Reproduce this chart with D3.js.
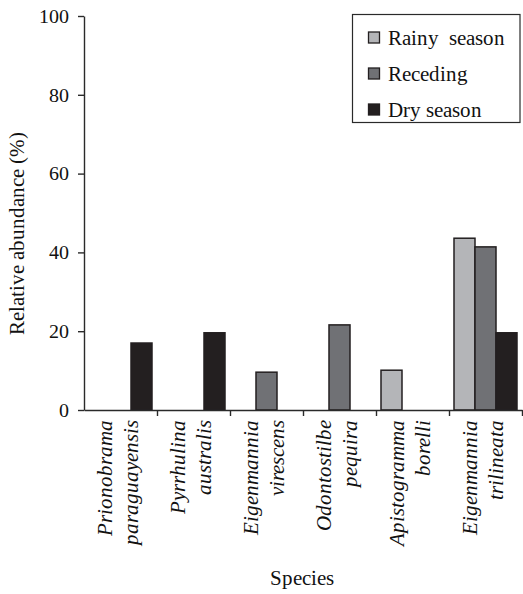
<!DOCTYPE html>
<html>
<head>
<meta charset="utf-8">
<script src="https://cdn.jsdelivr.net/npm/d3@7/dist/d3.min.js"></script>
<style>
  @font-face { font-family: "ChartSerif"; font-style: normal; src: local("Liberation Serif"), local("LiberationSerif"), local("Times New Roman"); }
  @font-face { font-family: "ChartSerif"; font-style: italic; src: local("Liberation Serif Italic"), local("LiberationSerif-Italic"), local("Times New Roman Italic"); }
</style>
</head>
<body style="margin:0">
<svg id="t" width="523" height="594"></svg>
<script>
// Species, split into genus and epithet (each drawn on its own line)
const genera   = ["Prionobrama", "Pyrrhulina", "Eigenmannia", "Odontostilbe", "Apistogramma", "Eigenmannia"];
const epithets = ["paraguayensis", "australis", "virescens", "pequira", "borelli", "trilineata"];

// Seasons and relative abundance (%) per species
const seasons        = ["Rainy  season", "Receding", "Dry season"];
const rainyValues    = [0, 0, 0, 0, 10.1, 43.6];
const recedingValues = [0, 0, 9.6, 21.6, 0, 41.4];
const dryValues      = [17.0, 19.6, 0, 0, 0, 19.6];
const seasonColors   = ["#b4b5b8", "#707175", "#231f20"];

const yTicks = [0, 20, 40, 60, 80, 100];

const svg = d3.select("#t");
const ink = "#2a2a2a";
const face = "ChartSerif, 'Liberation Serif', 'Times New Roman', Tinos, serif";

const plotLeft = 84, plotRight = 522, plotTop = 16, plotBottom = 410;

const speciesKeys = genera.map((g, i) => i);
const x0 = d3.scaleBand().domain(speciesKeys).range([plotLeft, plotRight]).paddingInner(0).paddingOuter(0);
const x1 = d3.scaleBand().domain(d3.range(seasons.length)).range([0, x0.bandwidth()])
  .paddingInner(0).paddingOuter(0.238);
const y = d3.scaleLinear().domain([0, 100]).range([plotBottom, plotTop]);

const seriesValues = [rainyValues, recedingValues, dryValues];
const bars = [];
seriesValues.forEach((vals, s) => vals.forEach((v, i) => { if (v > 0) bars.push({ i, s, v }); }));

// Bars
svg.append("g").selectAll("rect").data(bars).join("rect")
  .attr("x", d => x0(d.i) + x1(d.s))
  .attr("y", d => y(d.v))
  .attr("width", x1.bandwidth())
  .attr("height", d => y(0) - y(d.v))
  .attr("fill", d => seasonColors[d.s])
  .attr("stroke", "#231f20")
  .attr("stroke-width", 1.5);

// Y axis line and ticks
const yAxis = svg.append("g").attr("transform", `translate(${plotLeft},0)`)
  .call(d3.axisLeft(y).tickValues(yTicks).tickSize(6).tickSizeOuter(0).tickFormat(""));
yAxis.select(".domain").attr("stroke", ink).attr("stroke-width", 1.4);
yAxis.selectAll(".tick line").attr("stroke", ink).attr("stroke-width", 1.4);

// Y tick labels
svg.append("g").selectAll("text").data(yTicks).join("text")
  .attr("x", plotLeft - 15)
  .attr("y", d => y(d))
  .attr("dy", "0.34em")
  .attr("text-anchor", "end")
  .style("font-family", face).style("font-size", "20px").style("fill", "#111")
  .text(d => d);

// X axis: ticks at category boundaries
const boundaries = speciesKeys.map(i => x0(i)).concat([plotRight]);
const xPos = d3.scaleLinear().domain([plotLeft, plotRight]).range([plotLeft, plotRight]);
const xAxis = svg.append("g").attr("transform", `translate(0,${plotBottom})`)
  .call(d3.axisBottom(xPos).tickValues(boundaries.slice(1)).tickSize(6).tickSizeOuter(0).tickFormat(""));
xAxis.select(".domain").attr("stroke", ink).attr("stroke-width", 1.4);
xAxis.selectAll(".tick line").attr("stroke", ink).attr("stroke-width", 1.4);

// Species labels, rotated, genus above epithet
const labelG = svg.append("g").selectAll("g").data(speciesKeys).join("g")
  .attr("transform", i => `translate(${x0(i) + x0.bandwidth() / 2},420) rotate(-90)`);
[[genera, -9], [epithets, 17.5]].forEach(([names, dy]) => {
  labelG.append("text")
    .attr("x", 0).attr("y", dy)
    .attr("text-anchor", "end")
    .style("font-family", face).style("font-style", "italic").style("font-size", "21px")
    .style("fill", "#111")
    .text(i => names[i]);
});

// Axis titles
svg.append("text")
  .attr("transform", "translate(24,233) rotate(-90)")
  .attr("text-anchor", "middle")
  .style("font-family", face).style("font-size", "21px").style("fill", "#111")
  .text("Relative abundance (%)");
svg.append("text")
  .attr("x", 302).attr("y", 585)
  .attr("text-anchor", "middle")
  .style("font-family", face).style("font-size", "21px").style("fill", "#111")
  .text("Species");

// Legend
const legend = svg.append("g");
legend.append("rect")
  .attr("x", 352.5).attr("y", 14.5).attr("width", 167.5).attr("height", 108)
  .attr("fill", "#fff").attr("stroke", ink).attr("stroke-width", 1.2);
const ly = d3.scalePoint().domain(d3.range(seasons.length)).range([38, 110]);
const items = legend.selectAll("g.item").data(d3.range(seasons.length)).join("g").attr("class", "item");
items.append("rect")
  .attr("x", 368.5).attr("y", s => ly(s) - 6).attr("width", 11).attr("height", 11)
  .attr("fill", s => seasonColors[s]).attr("stroke", "#231f20").attr("stroke-width", 1.3);
items.append("text")
  .attr("x", 388).attr("y", s => ly(s) + 7)
  .style("font-family", face).style("font-size", "21px").style("fill", "#111")
  .style("white-space", "pre")
  .text(s => seasons[s]);
</script>
</body>
</html>
